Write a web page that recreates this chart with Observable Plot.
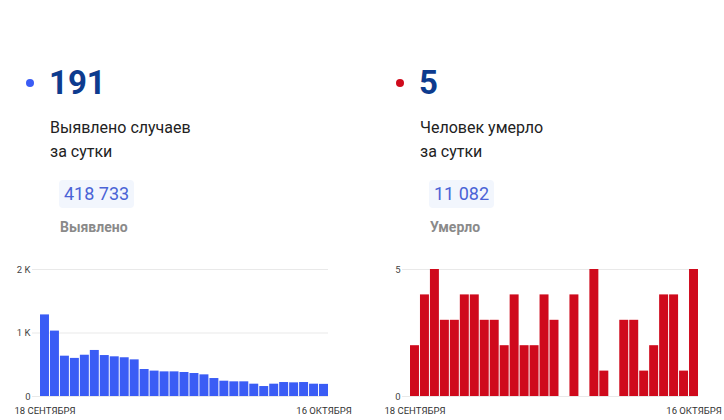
<!DOCTYPE html>
<html>
<head>
<meta charset="utf-8">
<script src="https://cdn.jsdelivr.net/npm/d3@7"></script>
<script src="https://cdn.jsdelivr.net/npm/@observablehq/plot@0.6"></script>
<style>
  html, body { margin: 0; padding: 0; background: #fff; }
  body { width: 724px; height: 420px; position: relative; overflow: hidden; font-family: Roboto, "Noto Sans", sans-serif; }
  .abs { position: absolute; white-space: nowrap; }
  .dot { position: absolute; width: 8px; height: 8px; border-radius: 50%; }
  .big { font-size: 33px; font-weight: 700; color: #0d3b8e; line-height: 36px; }
  .desc { font-size: 16px; color: #222; line-height: 24px; }
  .badge { font-size: 18px; color: #4a63d6; background: #f2f6fd; border-radius: 4px; height: 28px; line-height: 28px; padding: 0 5px; }
  .lab { font-size: 14px; font-weight: 700; color: #8a8a8a; line-height: 16px; }
  .chart { position: absolute; top: 255px; }
</style>
</head>
<body>
<div id="root"></div>
<script>
// ---- data ----
const days = ["18.09","19.09","20.09","21.09","22.09","23.09","24.09","25.09","26.09","27.09",
  "28.09","29.09","30.09","01.10","02.10","03.10","04.10","05.10","06.10","07.10",
  "08.10","09.10","10.10","11.10","12.10","13.10","14.10","15.10","16.10"];
const dayTickLabels = ["18 СЕНТЯБРЯ", "16 ОКТЯБРЯ"];
const casesPerDay = [1285, 1030, 635, 600, 650, 725, 645, 625, 610, 577,
  425, 400, 388, 388, 378, 362, 341, 283, 241, 231,
  231, 194, 157, 194, 220, 215, 220, 194, 191];
const deathsPerDay = [2, 4, 5, 3, 3, 4, 4, 3, 3, 2,
  4, 2, 2, 4, 3, 0, 4, 0, 5, 1,
  0, 3, 3, 1, 2, 4, 4, 1, 5];
const casesTicks = [0, 1000, 2000];
const casesTickLabels = ["0", "1 K", "2 K"];
const deathsTicks = [0, 5];
const summary = [
  {value: "191", title: ["Выявлено случаев", "за сутки"], total: "418 733", totalLabel: "Выявлено", color: "#3a5cf5"},
  {value: "5", title: ["Человек умерло", "за сутки"], total: "11 082", totalLabel: "Умерло", color: "#cf0a1c"}
];

const root = document.getElementById("root");
summary.forEach((s, i) => {
  const ox = i * 370;
  const add = (cls, txt, left, top) => {
    const d = document.createElement("div");
    d.className = cls;
    if (txt != null) d.innerHTML = txt;
    d.style.left = left + "px";
    d.style.top = top + "px";
    root.appendChild(d);
    return d;
  };
  const dot = add("dot", null, 26 + ox, 79);
  dot.style.background = s.color;
  add("abs big", s.value, 49 + ox, 65);
  add("abs desc", s.title.join("<br>"), 50 + ox, 116);
  add("abs badge", s.total, 59 + ox, 180);
  add("abs lab", s.totalLabel, 60 + ox, 219);
});

function barChart(values, color, yDomain, ticks, tickFmt, left, width, mLeft, mRight) {
  const data = days.map((d, i) => ({day: d, v: values[i]}));
  const plot = Plot.plot({
    width, height: 165,
    marginTop: 14, marginBottom: 24, marginLeft: mLeft, marginRight: mRight,
    style: {fontFamily: "Roboto, sans-serif", background: "transparent", overflow: "visible"},
    x: {type: "band", domain: days, paddingInner: 0.1, paddingOuter: 0, round: false, label: null},
    y: {domain: yDomain, label: null},
    marks: [
      Plot.ruleY(ticks, {stroke: "#e9e9e9", strokeWidth: 1, insetLeft: -8}),
      Plot.barY(data, {x: "day", y: "v", fill: color}),
      Plot.axisY({ticks, tickSize: 0, tickPadding: 10, tickFormat: tickFmt, fontSize: 9.5, fill: "#444", label: null}),
      Plot.axisX({ticks: [days[0], days[days.length - 1]], tickSize: 0, tickPadding: 11, label: null,
        tickFormat: d => d === days[0] ? dayTickLabels[0] : dayTickLabels[1], fontSize: 9.5, fill: "#333"})
    ]
  });
  plot.classList.add("chart");
  plot.style.left = left + "px";
  root.appendChild(plot);
}

barChart(casesPerDay, "#3a5cf5", [0, 2000], casesTicks,
  d => casesTickLabels[casesTicks.indexOf(d)], 0, 362, 40, 34);
barChart(deathsPerDay, "#cf0a1c", [0, 5], deathsTicks,
  d => String(d), 362, 362, 48, 26);
</script>
</body>
</html>
